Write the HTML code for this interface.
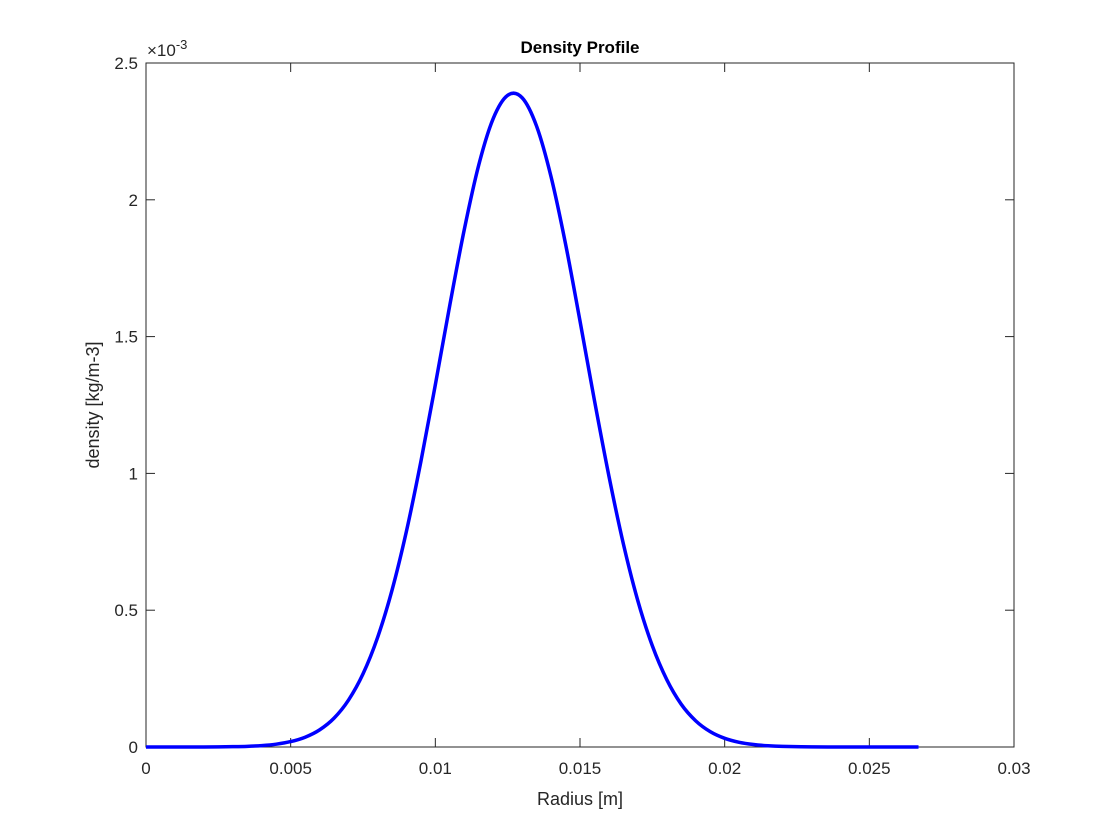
<!DOCTYPE html>
<html><head><meta charset="utf-8"><style>
body{margin:0;background:#fff;}
svg{display:block;font-family:"Liberation Sans",Arial,sans-serif;}
</style></head><body>
<svg id="chart" width="1120" height="840" viewBox="0 0 1120 840">
<rect width="1120" height="840" fill="#fff"/>
<g id="axes"></g>
</svg>
<script>
const radius = [0,0.0005,0.001,0.0015,0.002,0.0025,0.003,0.0035,0.004,0.0045,0.005,0.0055,0.006,0.0065,0.007,0.0075,0.008,0.0085,0.009,0.0095,0.010,0.0105,0.011,0.0115,0.012,0.0125,0.013,0.0135,0.014,0.0145,0.015,0.0155,0.016,0.0165,0.017,0.0175,0.018,0.0185,0.019,0.0195,0.020,0.0205,0.021,0.0215,0.022,0.023,0.024,0.025,0.0267];
const density = [0,0.00001,0.00004,0.0001,0.0002,0.0005,0.0012,0.0025,0.0052,0.0103,0.0197,0.0358,0.0626,0.1055,0.1716,0.2671,0.399,0.572,0.788,1.043,1.324,1.615,1.891,2.127,2.297,2.382,2.373,2.269,2.084,1.839,1.557,1.266,0.990,0.742,0.534,0.370,0.246,0.156,0.0956,0.0562,0.0318,0.0172,0.0090,0.0045,0.0022,0.0004,0.0001,0.00002,0];
const xTicks = [0,0.005,0.01,0.015,0.02,0.025,0.03];
const xTickLabels = ["0","0.005","0.01","0.015","0.02","0.025","0.03"];
const yTicks = [0,0.5,1,1.5,2,2.5];
const yTickLabels = ["0","0.5","1","1.5","2","2.5"];

const L=146,R=1014,T=63,B=747;
const xs=v=>L+(v-0)/(0.03)*(R-L);
const ys=v=>B-(v-0)/(2.5)*(B-T);
const NS="http://www.w3.org/2000/svg";
const g=document.getElementById('axes');
function mk(tag,attrs,parent){const e=document.createElementNS(NS,tag);for(const k in attrs)e.setAttribute(k,attrs[k]);(parent||g).appendChild(e);return e;}

const box=mk('rect',{x:L,y:T,width:R-L,height:B-T,fill:'#fff',stroke:'#262626','stroke-width':1});



xTicks.forEach((v,i)=>{
  const x=xs(v);
  const t1=mk('line',{x1:x,y1:B,x2:x,y2:B-9,stroke:'#262626'});
  
  
  const t2=mk('line',{x1:x,y1:T,x2:x,y2:T+9,stroke:'#262626'});
  
  
  const lb=mk('text',{x:x,y:B+27,'text-anchor':'middle','font-size':17,fill:'#262626'});
  lb.textContent=xTickLabels[i];
  
  
});
yTicks.forEach((v,i)=>{
  const y=ys(v);
  const t1=mk('line',{x1:L,y1:y,x2:L+9,y2:y,stroke:'#262626'});
  
  
  const t2=mk('line',{x1:R,y1:y,x2:R-9,y2:y,stroke:'#262626'});
  
  
  const lb=mk('text',{x:L-8,y:y+6,'text-anchor':'end','font-size':17,fill:'#262626'});
  lb.textContent=yTickLabels[i];
  
  
});

const P=radius.map((r,i)=>[xs(r),ys(density[i])]);
let d='M'+P[0][0]+','+P[0][1];
for(let i=0;i<P.length-1;i++){
  const p0=P[i-1]||P[i],p1=P[i],p2=P[i+1],p3=P[i+2]||P[i+1];
  const c1=[p1[0]+(p2[0]-p0[0])/6,p1[1]+(p2[1]-p0[1])/6];
  const c2=[p2[0]-(p3[0]-p1[0])/6,p2[1]-(p3[1]-p1[1])/6];
  d+=' C'+c1[0]+','+c1[1]+' '+c2[0]+','+c2[1]+' '+p2[0]+','+p2[1];
}
const line=mk('path',{d:d,fill:'none',stroke:'#0000ff','stroke-width':3.5,'stroke-linejoin':'round'});



const title=mk('text',{x:(L+R)/2,y:53,'text-anchor':'middle','font-size':17,'font-weight':'bold',fill:'#000'});
title.textContent='Density Profile';



const xl=mk('text',{x:(L+R)/2,y:805,'text-anchor':'middle','font-size':18,fill:'#262626'});
xl.textContent='Radius [m]';



const yl=mk('text',{x:0,y:0,'text-anchor':'middle','font-size':18,fill:'#262626',transform:'translate(99,405) rotate(-90)'});
yl.textContent='density [kg/m-3]';



const ex=mk('text',{x:147,y:56,'font-size':17,fill:'#262626'});
ex.innerHTML='×10<tspan dy="-7" font-size="13">-3</tspan>';


</script>
</body></html>
